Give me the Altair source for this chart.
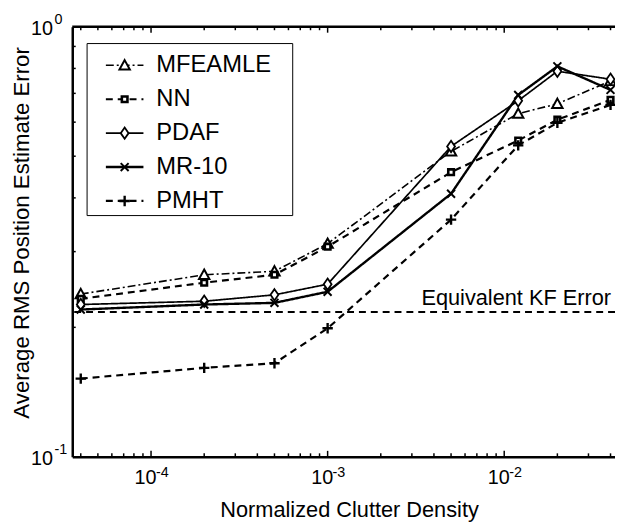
import altair as alt
import pandas as pd

# ---------------- data ----------------
x_vals = [4e-5, 2e-4, 5e-4, 1e-3, 5e-3, 1.2e-2, 2e-2, 4e-2]
mfeamle = [0.239, 0.265, 0.270, 0.313, 0.513, 0.628, 0.662, 0.748]
nn = [0.233, 0.254, 0.265, 0.308, 0.459, 0.544, 0.608, 0.676]
pdaf = [0.226, 0.230, 0.238, 0.252, 0.527, 0.673, 0.788, 0.755]
mr10 = [0.220, 0.226, 0.228, 0.242, 0.409, 0.694, 0.809, 0.713]
pmht = [0.152, 0.161, 0.165, 0.199, 0.356, 0.530, 0.598, 0.658]
kf_error = 0.217
kf_label = "Equivalent KF Error"

methods = ["MFEAMLE", "NN", "PDAF", "MR-10", "PMHT"]
series = [mfeamle, nn, pdaf, mr10, pmht]

x_tick_values = [1e-4, 1e-3, 1e-2]
x_tick_exponents = ["-4", "-3", "-2"]
y_tick_values = [0.1, 1.0]
y_tick_exponents = ["-1", "0"]

x_title = "Normalized Clutter Density"
y_title = "Average RMS Position Estimate Error"

# ---------------- styles ----------------
W, H = 549, 435
X_DOMAIN = [3.58e-5, 0.0424]
Y_DOMAIN = [0.1, 1.0]
FONT = "Liberation Sans"

styles = {
    "MFEAMLE": dict(dash=[8, 3, 2, 3], lw=1.6, shape="M0,-1L1,0.8L-1,0.8Z", size=110, mw=2.0),
    "NN": dict(dash=[7, 5], lw=2.2, shape="square", size=32, mw=2.6),
    "PDAF": dict(dash=[1, 0], lw=1.7, shape="M0,-1.15L0.8,0L0,1.15L-0.8,0Z", size=100, mw=1.8),
    "MR-10": dict(dash=[1, 0], lw=2.4, shape="M-1,-1L1,1M-1,1L1,-1", size=64, mw=2.0),
    "PMHT": dict(dash=[7, 5], lw=2.2, shape="M-1,0L1,0M0,-1L0,1", size=110, mw=2.4),
}

rows = []
for m, vals in zip(methods, series):
    for xv, yv in zip(x_vals, vals):
        rows.append({"method": m, "x": xv, "y": yv})
df = pd.DataFrame(rows)

xscale = alt.Scale(type="log", domain=X_DOMAIN, nice=False)
yscale = alt.Scale(type="log", domain=Y_DOMAIN, nice=False)

x_axis = alt.Axis(
    values=x_tick_values,
    labelExpr="'10'",
    ticks=False,
    grid=False,
    domainWidth=2.5,
    domainColor="black",
    labelFontSize=20,
    labelColor="black",
    labelPadding=11,
    labelOffset=-6,
    labelBaseline="top",
    title=x_title,
    titleFontSize=22,
    titleFontWeight="normal",
    titleColor="black",
    titleBaseline="alphabetic",
    titleX=280,
    titleY=60,
)
y_axis = alt.Axis(
    values=y_tick_values,
    labelExpr="'10'",
    ticks=False,
    grid=False,
    domainWidth=2.5,
    domainColor="black",
    labelFontSize=20,
    labelColor="black",
    labelPadding=20,
    labelBaseline="middle",
    labelOffset=2,
    title=y_title,
    titleFontSize=22.5,
    titleFontWeight="normal",
    titleColor="black",
    titleBaseline="alphabetic",
    titleX=-44,
    titleY=208,
)

kf_df = pd.DataFrame({"kf": [kf_error], "label": [kf_label]})

# KF reference line (carries the axes)
kf_line = alt.Chart(kf_df).mark_rule(
    color="black", strokeDash=[7, 5], strokeWidth=2
).encode(y=alt.Y("kf:Q", scale=yscale, axis=y_axis))
kf_text = alt.Chart(kf_df).mark_text(
    align="right", baseline="alphabetic", dy=-7, fontSize=22, font=FONT, color="black"
).encode(x=alt.value(W - 4), y=alt.Y("kf:Q", scale=yscale), text="label:N")

series_layers = []
for i, m in enumerate(methods):
    s = styles[m]
    sub = alt.Chart(df).transform_filter(alt.datum.method == m)
    x_enc = alt.X("x:Q", scale=xscale, axis=x_axis) if i == 0 else alt.X("x:Q", scale=xscale)
    series_layers.append(
        sub.mark_line(color="black", strokeCap="butt", strokeDash=s["dash"], strokeWidth=s["lw"])
        .encode(x=x_enc, y=alt.Y("y:Q", scale=yscale))
    )
for m in methods:
    s = styles[m]
    sub = alt.Chart(df).transform_filter(alt.datum.method == m)
    series_layers.append(
        sub.mark_point(shape=s["shape"], size=s["size"], strokeWidth=s["mw"],
                       fill="white", stroke="black", opacity=1, fillOpacity=1)
        .encode(x=alt.X("x:Q", scale=xscale), y=alt.Y("y:Q", scale=yscale))
    )

# ---------------- inward ticks ----------------
x_minor = [m * 10.0 ** e for e in (-5, -4, -3, -2) for m in range(2, 10)]
x_minor = [v for v in x_minor if X_DOMAIN[0] <= v <= X_DOMAIN[1]]
y_minor = [m / 10.0 for m in range(2, 10)]
xmin_df = pd.DataFrame({"v": x_minor})
xmaj_df = pd.DataFrame({"v": x_tick_values})
ymin_df = pd.DataFrame({"v": y_minor})

tick_style = dict(color="black", strokeWidth=1.5)
xt_minor_b = alt.Chart(xmin_df).mark_rule(**tick_style).encode(
    x=alt.X("v:Q", scale=xscale), y=alt.value(H), y2=alt.value(H - 3.5))
xt_major_b = alt.Chart(xmaj_df).mark_rule(**tick_style).encode(
    x=alt.X("v:Q", scale=xscale), y=alt.value(H), y2=alt.value(H - 6))
xt_minor_t = alt.Chart(xmin_df).mark_rule(**tick_style).encode(
    x=alt.X("v:Q", scale=xscale), y=alt.value(0), y2=alt.value(3.5))
xt_major_t = alt.Chart(xmaj_df).mark_rule(**tick_style).encode(
    x=alt.X("v:Q", scale=xscale), y=alt.value(0), y2=alt.value(6))
yt_minor = alt.Chart(ymin_df).mark_rule(**tick_style).encode(
    y=alt.Y("v:Q", scale=yscale), x=alt.value(0), x2=alt.value(3.5))

top_border = alt.Chart(kf_df).mark_rule(color="black", strokeWidth=2.5).encode(
    x=alt.value(0), x2=alt.value(W), y=alt.value(0))

# ---------------- exponent superscripts of tick labels ----------------
xexp_df = pd.DataFrame({"v": x_tick_values, "e": x_tick_exponents})
yexp_df = pd.DataFrame({"v": y_tick_values, "e": y_tick_exponents})
x_exp = alt.Chart(xexp_df).mark_text(
    align="left", baseline="middle", fontSize=14.5, font=FONT, color="black", dx=5, dy=16
).encode(x=alt.X("v:Q", scale=xscale), y=alt.value(H), text="e:N")
y_exp = alt.Chart(yexp_df).mark_text(
    align="left", baseline="middle", fontSize=14.5, font=FONT, color="black", dy=-7
).encode(x=alt.value(-18), y=alt.Y("v:Q", scale=yscale), text="e:N")

# ---------------- legend (MATLAB style box) ----------------
LEG_X0, LEG_X1, LEG_Y0, LEG_Y1 = 15, 223, 17, 191
leg_box = alt.Chart(kf_df).mark_rect(fill="white", stroke="black", strokeWidth=1).encode(
    x=alt.value(LEG_X0), x2=alt.value(LEG_X1), y=alt.value(LEG_Y0), y2=alt.value(LEG_Y1))
legend_layers = [leg_box]
for i, m in enumerate(methods):
    s = styles[m]
    ly = 39 + i * 34.3
    legend_layers.append(
        alt.Chart(kf_df).mark_rule(color="black", strokeCap="butt",
                                   strokeDash=s["dash"], strokeWidth=s["lw"])
        .encode(x=alt.value(34), x2=alt.value(72), y=alt.value(ly))
    )
    legend_layers.append(
        alt.Chart(kf_df).mark_point(shape=s["shape"], size=s["size"], strokeWidth=s["mw"],
                                    fill="white", stroke="black", opacity=1, fillOpacity=1)
        .encode(x=alt.value(53), y=alt.value(ly))
    )
    legend_layers.append(
        alt.Chart(kf_df).mark_text(align="left", baseline="middle", fontSize=24,
                                   font=FONT, color="black")
        .encode(x=alt.value(85), y=alt.value(ly), text=alt.value(m))
    )

chart = alt.layer(
    kf_line, kf_text, *series_layers,
    xt_minor_b, xt_major_b, xt_minor_t, xt_major_t, yt_minor, top_border,
    x_exp, y_exp,
    *legend_layers,
).properties(
    width=W, height=H,
    autosize=alt.AutoSizeParams(type="none"),
    padding={"left": 65, "top": 16, "right": 0, "bottom": 64},
    background="white",
).configure_view(stroke=None).configure(font=FONT)

chart.save("out.html", embed_options={"renderer": "svg", "actions": False})
